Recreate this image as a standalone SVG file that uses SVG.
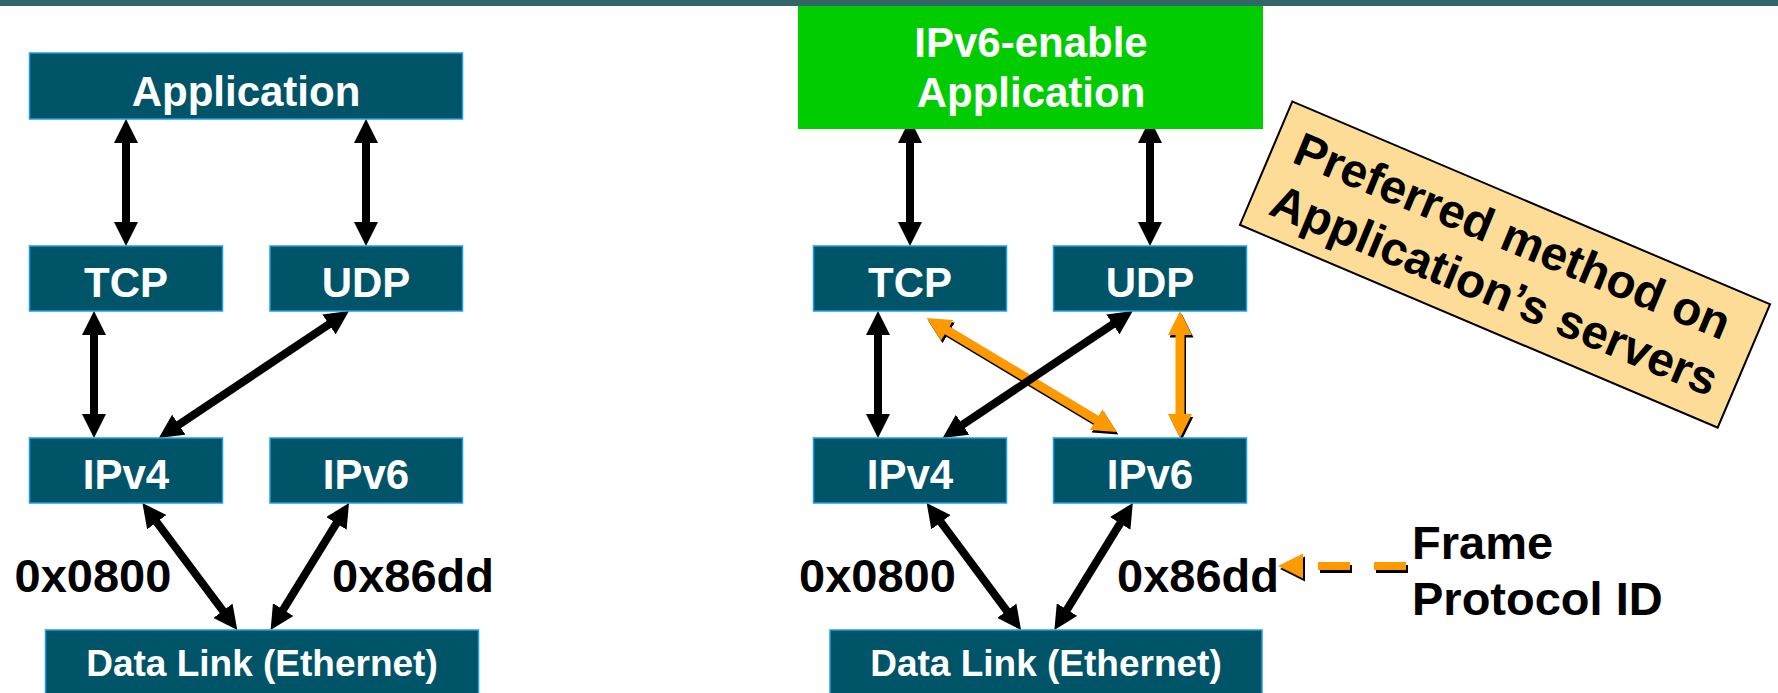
<svg xmlns="http://www.w3.org/2000/svg" width="1778" height="693" viewBox="0 0 1778 693">
<style>
.box{fill:#005468;stroke:#1E9FE0;stroke-width:1.5}
.lbl{font-family:"Liberation Sans",Arial,sans-serif;font-weight:bold;fill:#fff;text-anchor:middle}
.blk{font-family:"Liberation Sans",Arial,sans-serif;font-weight:bold;fill:#000}
.ar{fill:none;stroke:#000;stroke-width:8}
.as{fill:none;stroke:#000;stroke-width:9}
.ao{fill:none;stroke:#FF9900;stroke-width:9}
</style>
<defs>
<marker id="hb" viewBox="0 0 24 24" markerWidth="24" markerHeight="24" markerUnits="userSpaceOnUse" refX="12" refY="12" orient="auto-start-reverse"><path d="M0,0 L24,12 L0,24 z" fill="#000"/></marker>
<marker id="ho" viewBox="0 0 24 24" markerWidth="24" markerHeight="24" markerUnits="userSpaceOnUse" refX="12" refY="12" orient="auto-start-reverse"><path d="M0,0 L24,12 L0,24 z" fill="#FF9900"/></marker>
</defs>
<rect x="0" y="0" width="1778" height="6" fill="#336666"/>
<g id="connectors">
<path class="ar" d="M126,131 L126,234" marker-start="url(#hb)" marker-end="url(#hb)"/>
<path class="ar" d="M366,131 L366,234" marker-start="url(#hb)" marker-end="url(#hb)"/>
<path class="ar" d="M94,323 L94,426" marker-start="url(#hb)" marker-end="url(#hb)"/>
<path class="ar" d="M339,317.7 L168.8,431.3" marker-start="url(#hb)" marker-end="url(#hb)"/>
<path class="ar" d="M149.6,512.6 L230.1,620.4" marker-start="url(#hb)" marker-end="url(#hb)"/>
<path class="ar" d="M342.7,513.2 L276.9,619.8" marker-start="url(#hb)" marker-end="url(#hb)"/>
<path class="ar" d="M910,131 L910,234" marker-start="url(#hb)" marker-end="url(#hb)"/>
<path class="ar" d="M1150,131 L1150,234" marker-start="url(#hb)" marker-end="url(#hb)"/>
<path class="ar" d="M878,323 L878,426" marker-start="url(#hb)" marker-end="url(#hb)"/>
<g transform="translate(1.5,2.5)">
<path class="as" d="M936.9,324.2 L1106.5,425.8" marker-start="url(#hb)" marker-end="url(#hb)"/>
<path class="as" d="M1180,323 L1180,426" marker-start="url(#hb)" marker-end="url(#hb)"/>
</g>
<path class="ao" d="M936.9,324.2 L1106.5,425.8" marker-start="url(#ho)" marker-end="url(#ho)"/>
<path class="ao" d="M1180,323 L1180,426" marker-start="url(#ho)" marker-end="url(#ho)"/>
<path class="ar" d="M1122.8,317.7 L952.6,431.3" marker-start="url(#hb)" marker-end="url(#hb)"/>
<path class="ar" d="M933.8,512.6 L1013.9,620.4" marker-start="url(#hb)" marker-end="url(#hb)"/>
<path class="ar" d="M1126.5,513.2 L1060.7,619.8" marker-start="url(#hb)" marker-end="url(#hb)"/>
<g transform="translate(2,3)">
<polygon points="1278,566 1303,553.5 1303,578.5" fill="#000"/>
<line x1="1318" y1="566" x2="1406" y2="566" stroke="#000" stroke-width="8" stroke-dasharray="32 24"/>
</g>
<polygon points="1278,566 1303,553.5 1303,578.5" fill="#FF9900"/>
<line x1="1318" y1="566" x2="1406" y2="566" stroke="#FF9900" stroke-width="8" stroke-dasharray="32 24"/>
</g>
<g id="app-left"><rect class="box" x="29.5" y="53" width="433" height="66"/><text class="lbl" x="246" y="106" font-size="42">Application</text></g>
<g id="tcp-left"><rect class="box" x="29.5" y="246" width="193" height="65"/><text class="lbl" x="126" y="297" font-size="42">TCP</text></g>
<g id="udp-left"><rect class="box" x="270" y="246" width="192.5" height="65"/><text class="lbl" x="366" y="297" font-size="42">UDP</text></g>
<g id="ipv4-left"><rect class="box" x="29.5" y="438" width="193" height="65"/><text class="lbl" x="126" y="489" font-size="42">IPv4</text></g>
<g id="ipv6-left"><rect class="box" x="270" y="438" width="192.5" height="65"/><text class="lbl" x="366" y="489" font-size="42">IPv6</text></g>
<g id="dl-left"><rect class="box" x="45.5" y="630" width="433" height="70"/><text class="lbl" x="262" y="676" font-size="37">Data Link (Ethernet)</text></g>
<g id="lbl-left"><text class="blk" x="14.5" y="592" font-size="47">0x0800</text><text class="blk" x="332" y="592" font-size="47">0x86dd</text></g>
<g id="app-right"><rect x="798" y="6" width="465" height="123" fill="#00CC00"/><text class="lbl" x="1031" y="57" font-size="42">IPv6-enable</text><text class="lbl" x="1031" y="107" font-size="42">Application</text></g>
<g id="tcp-right"><rect class="box" x="813.5" y="246" width="193" height="65"/><text class="lbl" x="910" y="297" font-size="42">TCP</text></g>
<g id="udp-right"><rect class="box" x="1053.5" y="246" width="193" height="65"/><text class="lbl" x="1150" y="297" font-size="42">UDP</text></g>
<g id="ipv4-right"><rect class="box" x="813.5" y="438" width="193" height="65"/><text class="lbl" x="910" y="489" font-size="42">IPv4</text></g>
<g id="ipv6-right"><rect class="box" x="1053.5" y="438" width="193" height="65"/><text class="lbl" x="1150" y="489" font-size="42">IPv6</text></g>
<g id="dl-right"><rect class="box" x="830" y="630" width="432" height="70"/><text class="lbl" x="1046" y="676" font-size="37">Data Link (Ethernet)</text></g>
<g id="lbl-right"><text class="blk" x="799" y="592" font-size="47">0x0800</text><text class="blk" x="1117" y="592" font-size="47">0x86dd</text></g>
<g id="frame-label"><text class="blk" x="1412" y="559" font-size="47">Frame</text><text class="blk" x="1412" y="615" font-size="47">Protocol ID</text></g>
<g id="note" transform="translate(1505,264.6)">
<rect x="-259.5" y="-67" width="519" height="134" fill="#FDDC98" stroke="#000" stroke-width="2" transform="rotate(23)"/>
<g transform="rotate(22.5)">
<text class="blk" x="-4" y="-13" font-size="47.5" text-anchor="middle">Preferred method on</text>
<text class="blk" x="0" y="44" font-size="47.5" text-anchor="middle">Application’s servers</text>
</g>
</g>
</svg>
